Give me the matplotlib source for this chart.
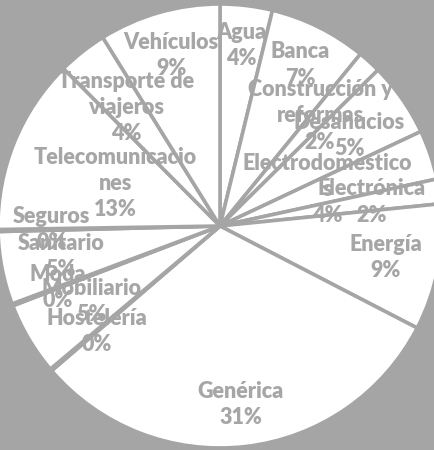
import numpy as np
import matplotlib
matplotlib.use("Agg")
import matplotlib.pyplot as plt

# Categorías (en el orden del gráfico, sentido horario desde arriba)
categorias = ['Agua', 'Banca', 'Construcción y\nreformas', 'Desahucios',
              'Electrodoméstico\ns', 'Electrónica', 'Energía', 'Genérica',
              'Hostelería', 'Mobiliario', 'Moda', 'Sanitario', 'Seguros',
              'Telecomunicacio\nnes', 'Transporte de\nviajeros', 'Vehículos']
porcentajes = [3.8, 7.1, 1.7, 5.4, 3.6, 1.8, 9.2, 31.1,
               0.15, 5.3, 0.15, 5.3, 0.15, 12.8, 3.6, 8.85]

# distancia radial de cada etiqueta (como la coloca Excel)
dist_etiqueta = [0.82, 0.81, 0.67, 0.71, 0.51, 0.69, 0.76, 0.81,
                 0.73, 0.67, 0.78, 0.73, 0.76, 0.51, 0.68, 0.80]

gris = '#A5A5A5'

fig = plt.figure(figsize=(4.35, 4.5), dpi=100)
fig.patch.set_facecolor(gris)
ax = fig.add_axes([0, 0, 1, 1])
ax.set_facecolor(gris)

wedges, _ = ax.pie(porcentajes, startangle=90, counterclock=False, radius=1,
                   colors=['white'] * len(porcentajes),
                   wedgeprops=dict(edgecolor=gris, linewidth=2.6))

total = sum(porcentajes)
for w, nombre, v, d in zip(wedges, categorias, porcentajes, dist_etiqueta):
    ang = np.deg2rad((w.theta1 + w.theta2) / 2)
    x, y = d * np.cos(ang), d * np.sin(ang)
    ax.text(x, y, f"{nombre}\n{100 * v / total:.0f}%", ha='center', va='center',
            multialignment='center', color='#A6A6A6', fontsize=15.5,
            fontweight='heavy', family='Lato', linespacing=1.3)

# centro en (220, 226) px, radio 222 px
ax.set_xlim(-220 / 222, 215 / 222)
ax.set_ylim(-224 / 222, 226 / 222)
ax.set_aspect('auto')
ax.axis('off')

fig.savefig('out.png', dpi=100, facecolor=gris)
